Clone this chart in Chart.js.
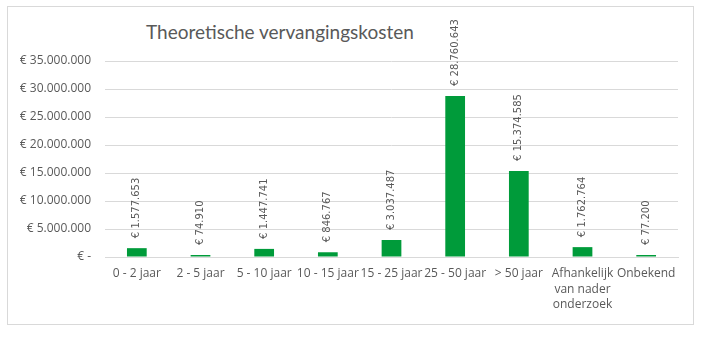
<!DOCTYPE html>
<html>
<head>
<meta charset="utf-8">
<script src="https://cdn.jsdelivr.net/npm/chart.js@4"></script>
<style>
  html, body { margin: 0; padding: 0; background: #fff; }
  #wrap { position: relative; width: 702px; height: 339px; }
  #frame { position: absolute; left: 7px; top: 6px; width: 685px; height: 317px; border: 1px solid #d9d9d9; }
  #title { position: absolute; left: 146px; top: 20px; font-family: Lato, sans-serif; font-weight: 400; font-size: 19px; color: #595959; white-space: nowrap; }
  canvas { position: absolute; left: 0; top: 0; }
</style>
</head>
<body>
<div id="wrap">
  <div id="frame"></div>
  <div id="title">Theoretische vervangingskosten</div>
  <canvas id="chart" width="702" height="339"></canvas>
</div>
<script>
document.addEventListener('DOMContentLoaded', () => {
    const categories = [
        '0 - 2 jaar', '2 - 5 jaar', '5 - 10 jaar', '10 - 15 jaar', '15 - 25 jaar',
        '25 - 50 jaar', '> 50 jaar', ['Afhankelijk', 'van nader', 'onderzoek'], 'Onbekend'
    ];
    const kosten = [1577653, 74910, 1447741, 846767, 3037487, 28760643, 15374585, 1762764, 77200];
    const yTicks = [0, 5000000, 10000000, 15000000, 20000000, 25000000, 30000000, 35000000];

    const textColor = '#595959';

    function euro(v) {
        if (v === 0) return '€ -';
        return '€ ' + String(Math.round(v)).replace(/\B(?=(\d{3})+(?!\d))/g, '.');
    }

    // labels boven de staven, verticaal
    const valueLabels = {
        id: 'valueLabels',
        afterDatasetsDraw(chart) {
            const ctx = chart.ctx;
            const meta = chart.getDatasetMeta(0);
            ctx.save();
            ctx.font = '10px "DejaVu Sans"';
            ctx.fillStyle = textColor;
            ctx.textAlign = 'left';
            ctx.textBaseline = 'middle';
            meta.data.forEach((bar, i) => {
                ctx.save();
                ctx.translate(bar.x, bar.y - 10);
                ctx.rotate(-Math.PI / 2);
                ctx.fillText(euro(kosten[i]), 0, 0);
                ctx.restore();
            });
            ctx.restore();
        }
    };

    new Chart(document.getElementById('chart').getContext('2d'), {
        type: 'bar',
        data: {
            labels: categories,
            datasets: [{
                data: kosten,
                backgroundColor: '#009B3A',
                categoryPercentage: 1,
                barPercentage: 0.31,
                minBarLength: 2
            }]
        },
        options: {
            responsive: false,
            animation: false,
            layout: { padding: { left: 0, right: 24, top: 61, bottom: 0 } },
            plugins: { legend: { display: false }, tooltip: { enabled: false } },
            scales: {
                x: {
                    grid: { display: false, drawTicks: false },
                    border: { color: '#d9d9d9' },
                    ticks: {
                        color: textColor,
                        font: { family: 'Open Sans', size: 12, lineHeight: 1.3 },
                        padding: 9,
                        autoSkip: false,
                        maxRotation: 0
                    },
                    afterFit(scale) { scale.height = 82; }
                },
                y: {
                    min: 0,
                    max: 35000000,
                    afterBuildTicks(scale) { scale.ticks = yTicks.map(v => ({ value: v })); },
                    grid: { color: '#d9d9d9', drawTicks: false },
                    border: { display: false },
                    ticks: {
                        color: textColor,
                        font: { family: 'Open Sans', size: 12 },
                        padding: 14,
                        callback: v => euro(v)
                    },
                    afterFit(scale) { scale.width = 105; }
                }
            }
        },
        plugins: [valueLabels]
    });
});
</script>
</body>
</html>
